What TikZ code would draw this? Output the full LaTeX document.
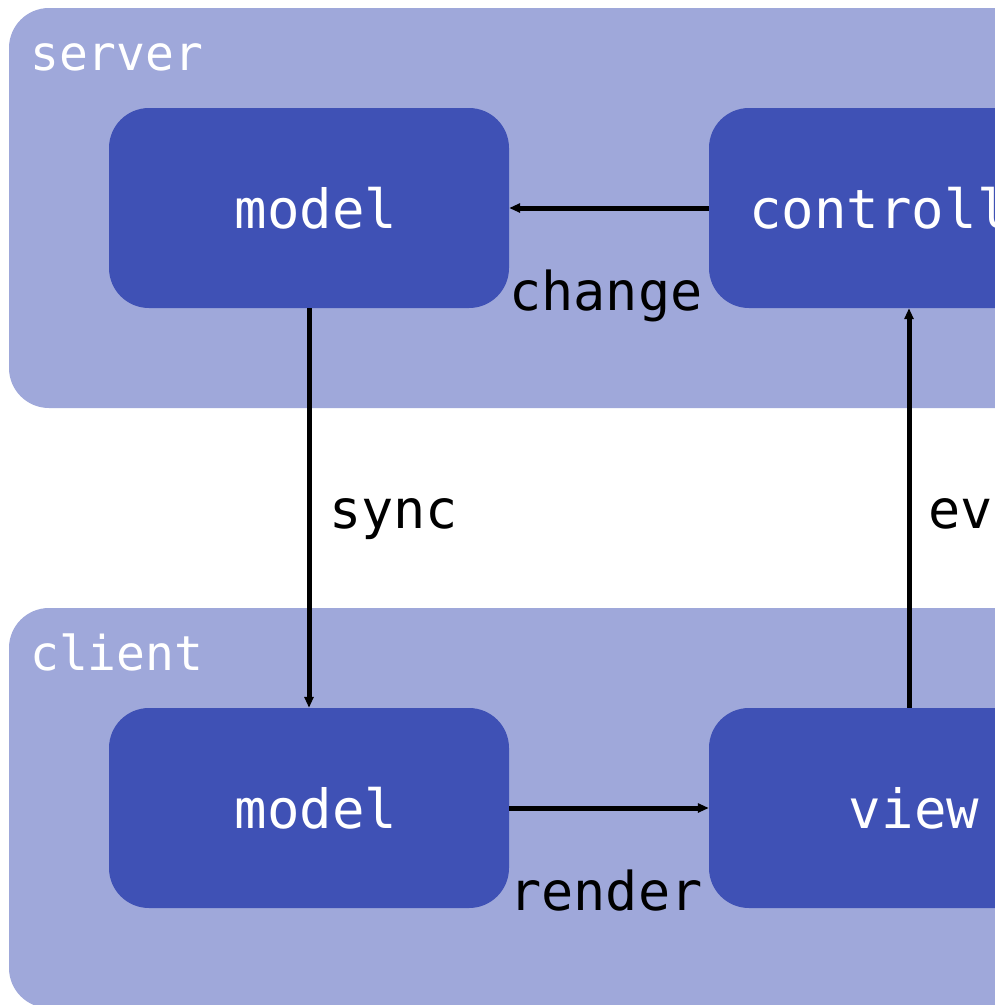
\documentclass[tikz,border=0pt]{standalone}
\usepackage{fontspec}
\newfontfamily\dmono{DejaVu Sans Mono}
\usetikzlibrary{arrows.meta}
\definecolor{grp}{HTML}{9FA8DA}
\definecolor{box}{HTML}{3F51B5}
\begin{document}
\begin{tikzpicture}[x=1pt,y=-1pt,
  group/.style={fill=grp, draw=none, rounded corners=40pt},
  comp/.style={fill=box, draw=none, rounded corners=40pt, minimum width=400pt, minimum height=200pt, inner sep=0pt},
  ctext/.style={text=white, inner sep=0pt, font=\dmono\fontsize{54}{62}\selectfont},
  glabel/.style={text=white, anchor=base west, inner sep=0pt, font=\dmono\fontsize{48}{56}\selectfont},
  elabel/.style={text=black, anchor=base west, inner sep=0pt, font=\dmono\fontsize{53.5}{62}\selectfont},
  arr/.style={line width=5pt, -{Triangle[length=11pt,width=9pt]}}]
\useasboundingbox (0,0) rectangle (995,1005);
\clip (0,0) rectangle (995,1005);
\fill[white] (0,0) rectangle (995,1005);
% groups
\path[group] (9,8) rectangle (1209,408);
\path[group] (9,608) rectangle (1209,1008);
\node[glabel] (lserver) at (30,70) {server};
\node[glabel] (lclient) at (30,670) {client};
% components
\node[comp] (smodel) at (309,208) {};
\node[comp] (ctrl) at (909,208) {};
\node[comp] (cmodel) at (309,808) {};
\node[comp] (view) at (909,808) {};
\node[ctext] (tsmodel) at (316,208) {model};
\node[ctext] (tctrl) at (912,208) {controller};
\node[ctext] (tcmodel) at (316,808) {model};
\node[ctext] (tview) at (914,808) {view};
% connectors
\draw[arr] (ctrl.west) -- (smodel.east);
\draw[arr] (smodel.south) -- (cmodel.north);
\draw[arr] (view.north) -- (ctrl.south);
\draw[arr] (cmodel.east) -- (view.west);
% edge labels
\node[elabel] (lchange) at (509,310) {change};
\node[elabel] (lsync) at (329,528) {sync};
\node[elabel] (levent) at (928,528) {event};
\node[elabel] (lrender) at (509,910) {render};
\end{tikzpicture}
\end{document}
